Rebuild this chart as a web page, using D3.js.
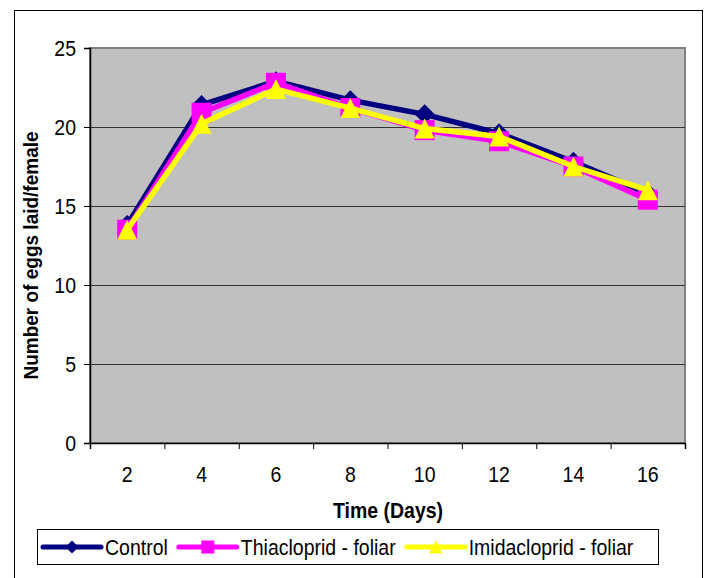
<!DOCTYPE html>
<html>
<head>
<meta charset="utf-8">
<script src="https://cdn.jsdelivr.net/npm/d3@7"></script>
<style>
  body { margin: 0; background: #fff; }
  svg { display: block; font-family: "Liberation Sans", Arial, sans-serif; }
</style>
</head>
<body>
<svg id="chart"></svg>
<script>
const days = [2, 4, 6, 8, 10, 12, 14, 16];
const control = [13.8, 21.4, 22.9, 21.7, 20.8, 19.6, 17.8, 15.8];
const thiacloprid = [13.5, 20.9, 22.8, 21.2, 19.8, 19.1, 17.5, 15.4];
const imidacloprid = [13.5, 20.2, 22.4, 21.2, 19.9, 19.4, 17.5, 16.0];
const seriesNames = ["Control", "Thiacloprid - foliar", "Imidacloprid - foliar"];
const yTicks = [0, 5, 10, 15, 20, 25];

const width = 709;
const height = 578;
const plot = { left: 90, right: 685, top: 48, bottom: 443 };
const stretch = 1.1; // text in the original is a bit taller than wide

// excel style markers, centred on their bounding box
const diamond = { draw(ctx, size) { const r = Math.sqrt(size) / 2; ctx.moveTo(0, -r); ctx.lineTo(r, 0); ctx.lineTo(0, r); ctx.lineTo(-r, 0); ctx.closePath(); } };
const square = { draw(ctx, size) { const r = Math.sqrt(size) / 2; ctx.rect(-r, -r, 2 * r, 2 * r); } };
const triangle = { draw(ctx, size) { const r = Math.sqrt(size) / 2; ctx.moveTo(0, -r); ctx.lineTo(r, r); ctx.lineTo(-r, r); ctx.closePath(); } };

const series = [
  { name: seriesNames[0], values: control, color: "#000080", shape: diamond, size: 20 },
  { name: seriesNames[1], values: thiacloprid, color: "#FF00FF", shape: square, size: 20 },
  { name: seriesNames[2], values: imidacloprid, color: "#FFFF00", shape: triangle, size: 20 }
];

const svg = d3.select("#chart").attr("width", width).attr("height", height);

function label(g, x0, y0, txt, anchor, bold) {
  return g.append("text")
    .attr("transform", `translate(${x0},${y0}) scale(1,${stretch})`)
    .attr("text-anchor", anchor)
    .style("font-size", "19.5px")
    .style("font-weight", bold ? "bold" : null)
    .text(txt);
}

// outer chart border
svg.append("rect")
  .attr("x", 14.5).attr("y", 10.5)
  .attr("width", 688).attr("height", 580)
  .attr("fill", "#fff").attr("stroke", "#000");

const x = d3.scaleBand(days, [plot.left, plot.right]);
const xEdge = d3.scaleLinear([0, days.length], [plot.left, plot.right]);
const y = d3.scaleLinear([0, 25], [plot.bottom, plot.top]);

svg.append("rect")
  .attr("x", plot.left).attr("y", plot.top)
  .attr("width", plot.right - plot.left).attr("height", plot.bottom - plot.top)
  .attr("fill", "#C0C0C0").attr("stroke", "#808080").attr("stroke-width", 2);

svg.append("g")
  .selectAll("line")
  .data(yTicks.filter(d => d > 0 && d < 25))
  .join("line")
  .attr("x1", plot.left).attr("x2", plot.right)
  .attr("y1", d => Math.round(y(d)) + 0.5).attr("y2", d => Math.round(y(d)) + 0.5)
  .attr("stroke", "#333");

const yAxis = svg.append("g")
  .attr("transform", `translate(${plot.left},0)`)
  .call(d3.axisLeft(y).tickValues(yTicks).tickSize(6).tickFormat(""));
yAxis.select(".domain").attr("stroke-width", 1.5);

const yLabels = svg.append("g");
yTicks.forEach(d => label(yLabels, 76, y(d) + 7.5, d, "end"));

const xAxis = svg.append("g")
  .attr("transform", `translate(0,${plot.bottom})`)
  .call(d3.axisBottom(xEdge).tickValues(d3.range(days.length + 1)).tickSize(6).tickFormat(""));
xAxis.select(".domain").attr("stroke-width", 1.5);

const xLabels = svg.append("g");
days.forEach(d => label(xLabels, x(d) + x.bandwidth() / 2, 481.5, d, "middle"));

label(svg, 388, 518, "Time (Days)", "middle", true);

svg.append("text")
  .attr("transform", `translate(38,${(plot.top + plot.bottom) / 2 + 10}) rotate(-90) scale(1,${stretch})`)
  .attr("text-anchor", "middle")
  .style("font-size", "19px").style("font-weight", "bold")
  .text("Number of eggs laid/female");

const line = d3.line()
  .x((d, i) => x(days[i]) + x.bandwidth() / 2)
  .y(d => y(d));

series.forEach(s => {
  const g = svg.append("g");
  g.append("path")
    .attr("d", line(s.values))
    .attr("fill", "none")
    .attr("stroke", s.color)
    .attr("stroke-width", 5.5)
    .attr("stroke-linejoin", "round");
  g.selectAll("path.marker")
    .data(s.values)
    .join("path")
    .attr("class", "marker")
    .attr("transform", (d, i) => `translate(${x(days[i]) + x.bandwidth() / 2},${y(d)})`)
    .attr("d", d3.symbol(s.shape, s.size * s.size))
    .attr("fill", s.color);
});

// legend
const legend = svg.append("g");
legend.append("rect")
  .attr("x", 37.5).attr("y", 529.5)
  .attr("width", 621).attr("height", 35)
  .attr("fill", "#fff").attr("stroke", "#000");

let lx = 43;
const ly = 547;
series.forEach(s => {
  legend.append("line")
    .attr("x1", lx).attr("x2", lx + 58)
    .attr("y1", ly).attr("y2", ly)
    .attr("stroke", s.color).attr("stroke-width", 5).attr("stroke-linecap", "round");
  legend.append("path")
    .attr("transform", `translate(${lx + 29},${ly})`)
    .attr("d", d3.symbol(s.shape, 13 * 13))
    .attr("fill", s.color);
  const t = label(legend, lx + 62, ly + 7.5, s.name, "start");
  lx += 62 + t.node().getComputedTextLength() + 11;
});
</script>
</body>
</html>
